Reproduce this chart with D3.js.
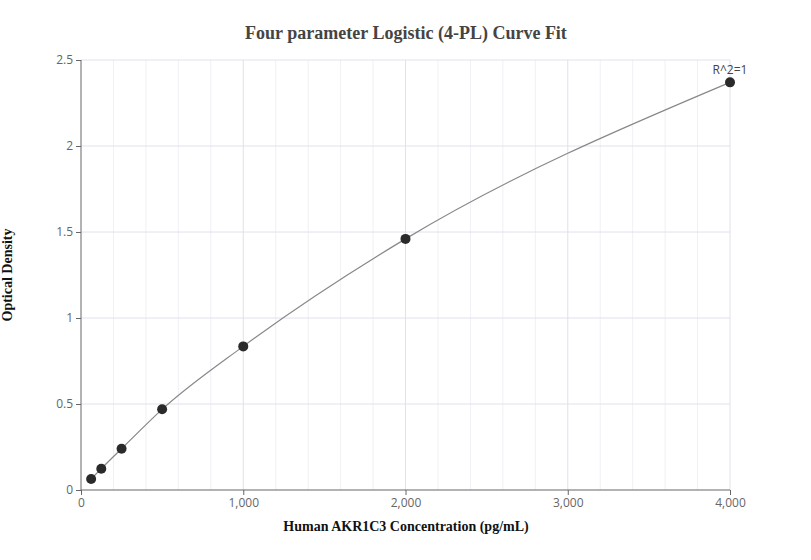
<!DOCTYPE html><html><head><meta charset="utf-8"><script src="https://cdn.jsdelivr.net/npm/d3@7"></script>
<style>body{margin:0;background:#fff}</style></head><body><svg id="c" width="811" height="560"></svg><script>
const concentrations=[62.5,125,250,500,1000,2000,4000];
const densities=[0.064,0.124,0.24,0.469,0.835,1.46,2.37];
const xTicks=[0,1000,2000,3000,4000];
const yTicks=[0,0.5,1,1.5,2,2.5];
const svg=d3.select("#c");
const x=d3.scaleLinear().domain([0,4000]).range([81,730]);
const y=d3.scaleLinear().domain([0,2.5]).range([490,60]);
const g=svg.append("g");
g.selectAll(".mg").data(d3.range(200,4001,200).filter(v=>v%1000)).join("line")
 .attr("x1",d=>x(d)).attr("x2",d=>x(d)).attr("y1",60).attr("y2",490).attr("stroke","#f0f0f6");
g.selectAll(".vg").data(xTicks.slice(1)).join("line")
 .attr("x1",d=>x(d)).attr("x2",d=>x(d)).attr("y1",60).attr("y2",490).attr("stroke","#e0e0ee");
g.selectAll(".hg").data(yTicks.slice(1)).join("line")
 .attr("y1",d=>y(d)).attr("y2",d=>y(d)).attr("x1",81).attr("x2",730).attr("stroke","#e0e0ee");
const xa=svg.append("g").attr("transform","translate(0,490)").call(d3.axisBottom(x).tickValues(xTicks).tickFormat(d3.format(",")).tickSize(5));
const ya=svg.append("g").attr("transform","translate(81,0)").call(d3.axisLeft(y).tickValues(yTicks).tickFormat(d=>d).tickSize(5));
[xa,ya].forEach(a=>{a.selectAll("path,line").attr("stroke","#666");a.selectAll("text").attr("fill","#666").style("font","12px 'Open Sans',sans-serif");});
ya.select(".domain").attr("d","M0,490V60");
xa.select(".domain").attr("d","M81,0H730");
const line=d3.line().x(d=>x(d[0])).y(d=>y(d[1])).curve(d3.curveMonotoneX);
svg.append("path").datum(concentrations.map((c,i)=>[c,densities[i]])).attr("d",line).attr("fill","none").attr("stroke","#888").attr("stroke-width",1.2);
svg.selectAll(".pt").data(concentrations).join("circle").attr("cx",d=>x(d)).attr("cy",(d,i)=>y(densities[i])).attr("r",5).attr("fill","#2a2a2a");
svg.append("text").attr("x",730).attr("y",74).attr("text-anchor","middle").attr("fill","#444").style("font","12px 'Open Sans',sans-serif").text("R^2=1");
svg.append("text").attr("x",406).attr("y",39).attr("text-anchor","middle").attr("fill","#444").style("font","bold 18px 'Liberation Serif',serif").text("Four parameter Logistic (4-PL) Curve Fit");
svg.append("text").attr("x",406).attr("y",531).attr("text-anchor","middle").attr("fill","#111").style("font","bold 14px 'Liberation Serif',serif").text("Human AKR1C3 Concentration (pg/mL)");
svg.append("text").attr("transform","translate(12,275) rotate(-90)").attr("text-anchor","middle").attr("fill","#111").style("font","bold 14px 'Liberation Serif',serif").text("Optical Density");
</script></body></html>
